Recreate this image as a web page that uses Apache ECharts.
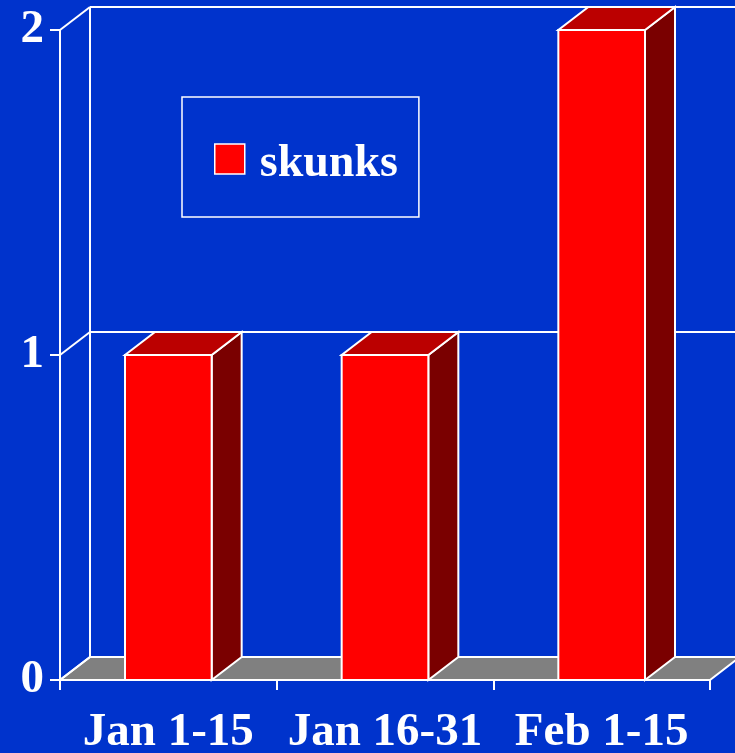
<!DOCTYPE html>
<html><head><meta charset="utf-8">
<script src="https://cdn.jsdelivr.net/npm/echarts@6/dist/echarts.min.js"></script>
<style>html,body{margin:0;padding:0;background:#0033cc;}#c{width:735px;height:753px;}</style>
</head><body><div id="c"></div>
<script>
var categories = ['Jan 1-15', 'Jan 16-31', 'Feb 1-15'];
var skunks = [1, 1, 2];
var yTicks = [0, 1, 2];
var seriesName = 'skunks';

var DX = 30, DY = -23;
var FONT = 'Liberation Serif, Times New Roman, serif';
var chart = echarts.init(document.getElementById('c'), null, {renderer: 'canvas'});

function frameItem(params, api) {
  var cs = params.coordSys;
  var x0 = cs.x, x1 = cs.x + cs.width;
  var y0 = api.coord([0, 0])[1];
  var els = [];
  els.push({type: 'polygon', shape: {points: [[x0, y0], [x1, y0], [x1 + DX, y0 + DY], [x0 + DX, y0 + DY]]},
    style: {fill: '#808080', stroke: '#ffffff', lineWidth: 2}});
  var yTop = api.coord([0, yTicks[yTicks.length - 1]])[1];
  els.push({type: 'line', shape: {x1: x0 + DX, y1: y0 + DY, x2: x0 + DX, y2: yTop + DY}, style: {stroke: '#ffffff', lineWidth: 2}});
  yTicks.forEach(function (t) {
    var y = api.coord([0, t])[1];
    els.push({type: 'line', shape: {x1: x0, y1: y, x2: x0 + DX, y2: y + DY}, style: {stroke: '#ffffff', lineWidth: 2}});
    els.push({type: 'line', shape: {x1: x0 + DX, y1: y + DY, x2: x1 + DX + 40, y2: y + DY}, style: {stroke: '#ffffff', lineWidth: 2}});
  });
  return {type: 'group', children: els};
}

function barItem(params, api) {
  var i = api.value(0), v = api.value(1);
  var pb = api.coord([i, 0]), pt = api.coord([i, v]);
  var bw = api.size([1, 0])[0] * 0.4;
  var xa = pb[0] - bw / 2, xb = pb[0] + bw / 2;
  var yb = pb[1], yt = pt[1];
  var st = {stroke: '#ffffff', lineWidth: 2};
  return {type: 'group', children: [
    {type: 'polygon', shape: {points: [[xb, yb], [xb, yt], [xb + DX, yt + DY], [xb + DX, yb + DY]]},
      style: Object.assign({fill: '#7a0000'}, st)},
    {type: 'polygon', shape: {points: [[xa, yt], [xb, yt], [xb + DX, yt + DY], [xa + DX, yt + DY]]},
      style: Object.assign({fill: '#bb0000'}, st)},
    {type: 'rect', shape: {x: xa, y: yt, width: bw, height: yb - yt},
      style: Object.assign({fill: '#ff0000'}, st)}
  ]};
}

chart.setOption({
  backgroundColor: '#0033cc',
  animation: false,
  grid: {left: 60, right: 25, top: 30, bottom: 73, containLabel: false, outerBoundsMode: 'none'},
  legend: {
    left: 182, top: 97,
    padding: [44, 21, 30, 32],
    borderColor: '#ffffff', borderWidth: 1.5,
    itemWidth: 30, itemHeight: 30, itemGap: 0,
    icon: 'rect',
    data: [{name: seriesName, itemStyle: {color: '#ff0000', borderColor: '#ffffff', borderWidth: 1.5}}],
    formatter: function (n) { return '{t|' + n + '}'; },
    textStyle: {color: '#ffffff', fontFamily: FONT, fontWeight: 'bold', fontSize: 46,
      rich: {t: {color: '#ffffff', fontFamily: FONT, fontWeight: 'bold', fontSize: 46, padding: [10, 0, 0, 10]}}}
  },
  xAxis: {
    type: 'category', data: categories, boundaryGap: true,
    axisLine: {lineStyle: {color: '#ffffff', width: 2}},
    axisTick: {show: true, interval: 0, length: 10, lineStyle: {color: '#ffffff', width: 2}},
    axisLabel: {interval: 0, hideOverlap: false, color: '#ffffff', fontFamily: FONT, fontWeight: 'bold', fontSize: 47, margin: 29},
    splitLine: {show: false}, z: 5
  },
  yAxis: {
    type: 'value', min: 0, max: 2, interval: 1,
    axisLine: {show: true, lineStyle: {color: '#ffffff', width: 2}},
    axisTick: {show: true, length: 10, lineStyle: {color: '#ffffff', width: 2}},
    axisLabel: {color: '#ffffff', fontFamily: FONT, fontWeight: 'bold', fontSize: 47, margin: 16},
    splitLine: {show: false}
  },
  series: [
    {type: 'custom', name: '__frame', renderItem: frameItem, data: [[0, 0]], z: 1, silent: true, legendHoverLink: false},
    {type: 'custom', name: seriesName, renderItem: barItem, z: 3,
      itemStyle: {color: '#ff0000'},
      data: skunks.map(function (v, i) { return [i, v]; })}
  ]
});
</script></body></html>
